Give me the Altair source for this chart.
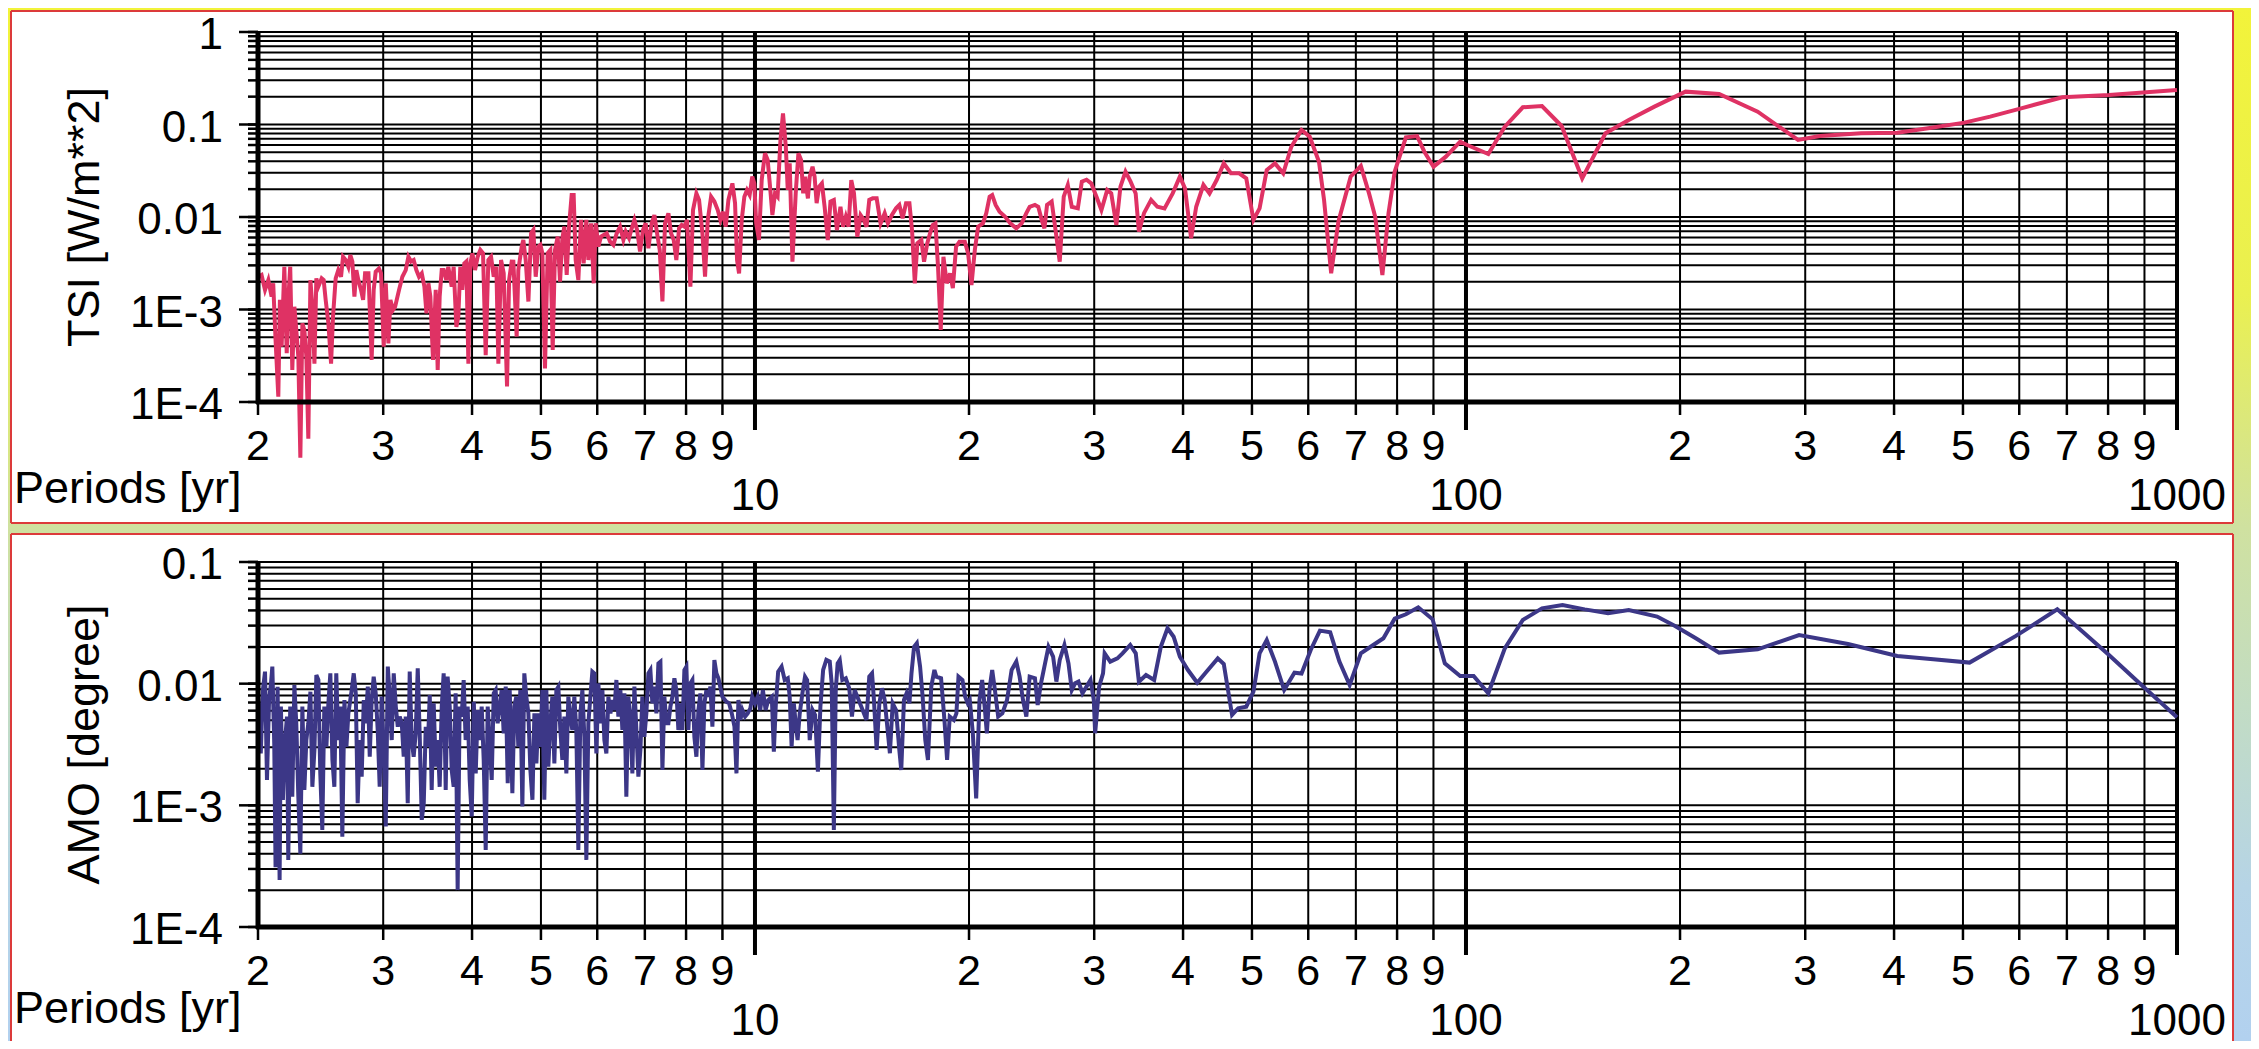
import altair as alt
import pandas as pd

# ---------------- data ----------------
X_TICKS = [2, 3, 4, 5, 6, 7, 8, 9, 10, 20, 30, 40, 50, 60, 70, 80, 90,
           100, 200, 300, 400, 500, 600, 700, 800, 900, 1000]
X_MINOR_POS = [2, 3, 4, 5, 6, 7, 8, 9, 20, 30, 40, 50, 60, 70, 80, 90,
               200, 300, 400, 500, 600, 700, 800, 900]
X_MINOR_TEXT = ["2", "3", "4", "5", "6", "7", "8", "9"] * 3
X_MAJOR = [10, 100, 1000]
X_MAJOR_LABELS = ["10", "100", "1000"]

TSI_DECADES = [0.0001, 0.001, 0.01, 0.1, 1]
TSI_DECADE_LABELS = ["1E-4", "1E-3", "0.01", "0.1", "1"]
AMO_DECADES = [0.0001, 0.001, 0.01, 0.1]
AMO_DECADE_LABELS = ["1E-4", "1E-3", "0.01", "0.1"]

TSI_POINTS = [
    (2.0, 0.00226), (2.023, 0.00236), (2.046, 0.00163), (2.068, 0.00208), (2.090, 0.00138),
    (2.101, 0.00192), (2.117, 0.00047), (2.136, 0.000114), (2.147, 0.00127), (2.159, 0.000396),
    (2.178, 0.0029), (2.195, 0.000336), (2.206, 0.00127), (2.220, 0.0029), (2.235, 0.000222),
    (2.250, 0.00107), (2.264, 0.0006), (2.279, 0.00031), (2.294, 0.000025), (2.309, 0.00071),
    (2.324, 0.0006), (2.339, 0.00031), (2.354, 0.00004), (2.370, 0.00208), (2.385, 0.00107),
    (2.401, 0.00026), (2.416, 0.00217), (2.432, 0.00177), (2.458, 0.00217), (2.474, 0.00208),
    (2.490, 0.00127), (2.512, 0.00071), (2.534, 0.00026), (2.550, 0.00084), (2.572, 0.00217),
    (2.594, 0.00267), (2.617, 0.00226), (2.634, 0.00372), (2.657, 0.00343), (2.680, 0.0029),
    (2.697, 0.00388), (2.715, 0.0033), (2.733, 0.00138), (2.750, 0.00267), (2.768, 0.00208),
    (2.792, 0.00163), (2.811, 0.00127), (2.829, 0.00246), (2.860, 0.00246), (2.890, 0.000285),
    (2.909, 0.00163), (2.928, 0.00256), (2.959, 0.00278), (2.979, 0.00246), (3.005, 0.000396),
    (3.025, 0.00192), (3.051, 0.00043), (3.071, 0.00127), (3.097, 0.00099), (3.118, 0.00107),
    (3.158, 0.00163), (3.192, 0.00226), (3.227, 0.00267), (3.255, 0.00372), (3.283, 0.0033),
    (3.311, 0.00343), (3.340, 0.00267), (3.369, 0.00226), (3.399, 0.00246), (3.428, 0.00177),
    (3.451, 0.00091), (3.473, 0.00192), (3.495, 0.00138), (3.525, 0.000285), (3.556, 0.00163),
    (3.579, 0.000222), (3.602, 0.00138), (3.626, 0.00267), (3.649, 0.00267), (3.680, 0.00208),
    (3.704, 0.0029), (3.745, 0.00177), (3.769, 0.0029), (3.802, 0.00065), (3.826, 0.00084),
    (3.851, 0.0029), (3.876, 0.00163), (3.901, 0.00315), (3.927, 0.0033), (3.953, 0.00026),
    (3.978, 0.00315), (4.005, 0.00405), (4.039, 0.00267), (4.074, 0.00372), (4.109, 0.0044),
    (4.145, 0.00405), (4.181, 0.00032), (4.217, 0.00343), (4.254, 0.00372), (4.291, 0.00226),
    (4.328, 0.0029), (4.356, 0.00026), (4.394, 0.00343), (4.432, 0.00246), (4.480, 0.000147),
    (4.510, 0.00208), (4.548, 0.0033),
    (4.573, 0.00329), (4.622, 0.00051), (4.647, 0.00267), (4.698, 0.00479), (4.723, 0.00565),
    (4.759, 0.00343), (4.801, 0.00122), (4.843, 0.00667), (4.879, 0.00724), (4.916, 0.00226),
    (4.959, 0.00479), (4.991, 0.00499), (5.023, 0.00406), (5.066, 0.000231), (5.110, 0.00406),
    (5.155, 0.00441), (5.194, 0.000366), (5.233, 0.00441), (5.279, 0.00614), (5.319, 0.0020),
    (5.359, 0.00589), (5.394, 0.00787), (5.435, 0.00236), (5.476, 0.00787), (5.523, 0.0173),
    (5.559, 0.0173), (5.595, 0.00343), (5.644, 0.00208), (5.693, 0.0093), (5.742, 0.00316),
    (5.792, 0.0093), (5.830, 0.00343), (5.881, 0.00855), (5.932, 0.00192), (5.970, 0.00855),
    (6.022, 0.00479), (6.075, 0.00614), (6.127, 0.0064), (6.187, 0.00667), (6.254, 0.00542),
    (6.322, 0.00499), (6.391, 0.00667), (6.461, 0.00787), (6.530, 0.00565), (6.579, 0.00695),
    (6.651, 0.00589), (6.709, 0.00755), (6.767, 0.0093), (6.826, 0.00724), (6.892, 0.00423),
    (6.959, 0.00724), (7.019, 0.00855), (7.081, 0.00459), (7.158, 0.00855), (7.220, 0.0105),
    (7.283, 0.00667), (7.346, 0.00441), (7.410, 0.00122), (7.473, 0.00855), (7.555, 0.01096),
    (7.620, 0.00667), (7.686, 0.00565), (7.752, 0.00343), (7.820, 0.00755), (7.888, 0.0082),
    (7.956, 0.00787), (8.025, 0.0093), (8.113, 0.00177), (8.182, 0.0119), (8.272, 0.018),
    (8.344, 0.0153), (8.435, 0.00667), (8.507, 0.00226), (8.582, 0.0093), (8.675, 0.0166),
    (8.768, 0.0147), (8.864, 0.0119), (8.940, 0.0093), (9.018, 0.0114), (9.096, 0.00787),
    (9.176, 0.0153), (9.295, 0.0231), (9.375, 0.0141), (9.436, 0.00343), (9.498, 0.00246),
    (9.580, 0.0093), (9.662, 0.0166), (9.745, 0.0196), (9.829, 0.0173), (9.913, 0.0273),
    (9.978, 0.0231),
    (10.04, 0.00855), (10.13, 0.00564), (10.22, 0.0251), (10.33, 0.0488), (10.42, 0.0413),
    (10.51, 0.0196), (10.58, 0.0105), (10.67, 0.018), (10.76, 0.0166), (10.86, 0.0679),
    (10.95, 0.132), (11.05, 0.0575), (11.12, 0.0196), (11.19, 0.038), (11.29, 0.00329),
    (11.41, 0.018), (11.51, 0.0488), (11.61, 0.0413), (11.69, 0.018), (11.76, 0.0273),
    (11.87, 0.0159), (11.94, 0.0273), (12.05, 0.035), (12.13, 0.0273), (12.21, 0.0141),
    (12.31, 0.0213), (12.42, 0.0231), (12.53, 0.0129), (12.66, 0.00564), (12.77, 0.0147),
    (12.91, 0.0153), (13.04, 0.00723), (13.19, 0.0129), (13.30, 0.00786), (13.42, 0.0101),
    (13.54, 0.00786), (13.66, 0.0251), (13.78, 0.018), (13.93, 0.00612), (14.08, 0.0105),
    (14.23, 0.0093), (14.35, 0.00786), (14.48, 0.0153), (14.64, 0.0159), (14.83, 0.0159),
    (15.02, 0.00853), (15.22, 0.011), (15.38, 0.00853), (15.58, 0.0105), (15.79, 0.0124),
    (15.96, 0.0135), (16.13, 0.0097), (16.31, 0.0141), (16.49, 0.0141), (16.63, 0.00723),
    (16.78, 0.00192), (16.92, 0.00519), (17.14, 0.00564), (17.29, 0.00329), (17.47, 0.00519),
    (17.63, 0.00666), (17.78, 0.00819), (17.94, 0.00853), (18.09, 0.0029), (18.25, 0.0006),
    (18.41, 0.00372), (18.61, 0.00192), (18.81, 0.00246), (18.98, 0.0017), (19.18, 0.00478),
    (19.39, 0.00541), (19.73, 0.00541), (19.94, 0.00405), (20.16, 0.00184), (20.38, 0.0044),
    (20.60, 0.00786), (20.92, 0.00853), (21.15, 0.011), (21.38, 0.0166), (21.56, 0.0173),
    (21.80, 0.0135), (22.08, 0.0114), (22.47, 0.0101), (22.86, 0.00853), (23.31, 0.00754),
    (23.72, 0.00853), (24.08, 0.011), (24.34, 0.0129), (24.76, 0.0135), (25.03, 0.0129),
    (25.31, 0.0093), (25.53, 0.00754), (25.75, 0.0135), (26.14, 0.0147), (26.43, 0.00786),
    (26.83, 0.00329), (27.18, 0.0166), (27.54, 0.0222), (27.90, 0.0129), (28.45, 0.0124),
    (28.82, 0.0241), (29.26, 0.0253), (29.71, 0.0231), (30.22, 0.0166), (30.71, 0.0119),
    (31.29, 0.0196), (31.70, 0.018), (32.23, 0.0082), (32.66, 0.0213), (33.20, 0.0309),
    (33.75, 0.0241), (34.31, 0.018), (34.67, 0.00694), (35.25, 0.011), (36.07, 0.0153),
    (36.81, 0.0129), (37.67, 0.0124), (38.68, 0.018), (39.59, 0.0273), (40.25, 0.0204),
    (41.06, 0.00589), (41.74, 0.0129), (42.73, 0.0222), (43.58, 0.018), (44.60, 0.0251),
    (45.64, 0.038), (46.71, 0.0297), (47.97, 0.0297), (49.09, 0.0262), (50.24, 0.0093),
    (51.25, 0.0124), (52.45, 0.0322), (53.87, 0.038), (55.33, 0.0297), (56.80, 0.0575),
    (58.71, 0.0873), (60.29, 0.0738), (62.12, 0.0396), (63.15, 0.0153), (64.62, 0.00246),
    (66.15, 0.0089), (68.83, 0.0273), (71.14, 0.0356), (73.05, 0.018), (74.52, 0.0101),
    (76.28, 0.00236), (77.81, 0.011), (79.38, 0.0309), (82.32, 0.0727), (85.36, 0.075),
    (87.39, 0.0508), (90.02, 0.035), (93.69, 0.0449), (98.13, 0.0652), (100.4, 0.06),
    (107.5, 0.048), (113.4, 0.0946), (120.2, 0.1535), (127.9, 0.1585), (136.3, 0.0964),
    (145.7, 0.0262), (157.1, 0.0803), (169.4, 0.112), (184.1, 0.156), (203.6, 0.2265),
    (227.0, 0.2138), (257.2, 0.1376), (293.1, 0.068), (314.5, 0.0751), (359.4, 0.0803),
    (404.2, 0.0816), (446.7, 0.091), (502.3, 0.1047), (546.0, 0.1215), (603.7, 0.1496),
    (690.0, 0.1968), (802.3, 0.2085), (1000.0, 0.236),
]

AMO_POINTS = [
    (2.0, 0.00782), (2.018, 0.00267), (2.032, 0.00887), (2.046, 0.01256), (2.059, 0.00162),
    (2.073, 0.00734), (2.086, 0.01007), (2.095, 0.0138), (2.108, 0.00323), (2.117, 0.00031),
    (2.131, 0.00945), (2.145, 0.000243), (2.154, 0.00648), (2.168, 0.00111), (2.183, 0.00344),
    (2.197, 0.00536), (2.206, 0.000356), (2.220, 0.00648), (2.235, 0.00118), (2.250, 0.00975),
    (2.264, 0.00472), (2.279, 0.00118), (2.294, 0.0004), (2.309, 0.00648), (2.324, 0.00134),
    (2.339, 0.00344), (2.354, 0.00472), (2.370, 0.00859), (2.385, 0.00142), (2.401, 0.00285),
    (2.416, 0.01178), (2.432, 0.01072), (2.447, 0.00183), (2.463, 0.000627), (2.479, 0.00648),
    (2.496, 0.00303), (2.512, 0.00689), (2.528, 0.01216), (2.545, 0.00236), (2.561, 0.00142),
    (2.577, 0.01216), (2.594, 0.00344), (2.611, 0.00648), (2.628, 0.000553), (2.646, 0.00734),
    (2.663, 0.00303), (2.680, 0.0057), (2.709, 0.00887), (2.727, 0.01216), (2.745, 0.00834),
    (2.762, 0.00104), (2.780, 0.00344), (2.798, 0.00172), (2.817, 0.00734), (2.835, 0.00472),
    (2.854, 0.00945), (2.872, 0.00251), (2.890, 0.00734), (2.909, 0.01142), (2.928, 0.00834),
    (2.947, 0.00416), (2.966, 0.00142), (2.985, 0.00782), (3.005, 0.00285), (3.025, 0.00067),
    (3.045, 0.0138), (3.064, 0.00782), (3.084, 0.00344), (3.104, 0.01216), (3.125, 0.00648),
    (3.145, 0.00443), (3.165, 0.00536), (3.186, 0.00472), (3.206, 0.00251), (3.227, 0.00536),
    (3.248, 0.00104), (3.269, 0.01256), (3.290, 0.00344), (3.311, 0.00251), (3.333, 0.00391),
    (3.355, 0.01337), (3.376, 0.00391), (3.399, 0.00076), (3.421, 0.00104), (3.443, 0.00443),
    (3.466, 0.00303), (3.488, 0.00807), (3.510, 0.00134), (3.533, 0.00689), (3.556, 0.00208),
    (3.579, 0.00344), (3.602, 0.00142), (3.626, 0.00648), (3.649, 0.01216), (3.673, 0.00134),
    (3.696, 0.01142), (3.721, 0.00648), (3.745, 0.00195), (3.769, 0.00142), (3.793, 0.00834),
    (3.818, 0.000201), (3.843, 0.00648), (3.868, 0.00536), (3.893, 0.01072), (3.918, 0.00344),
    (3.944, 0.00648), (3.970, 0.00162), (3.996, 0.00081), (4.023, 0.00711), (4.048, 0.00183),
    (4.074, 0.00608), (4.100, 0.00344), (4.127, 0.00648), (4.154, 0.00236), (4.181, 0.00043),
    (4.208, 0.00648), (4.235, 0.00344), (4.263, 0.00162), (4.291, 0.00834), (4.318, 0.00887),
    (4.346, 0.00472), (4.375, 0.00648), (4.403, 0.00887), (4.432, 0.00391), (4.461, 0.00945),
    (4.490, 0.00152), (4.519, 0.00887), (4.558, 0.00126), (4.587, 0.00648),
    (4.617, 0.00782), (4.647, 0.00303), (4.677, 0.00887), (4.708, 0.00098), (4.738, 0.01216),
    (4.769, 0.00782), (4.801, 0.0057), (4.832, 0.00195), (4.864, 0.00111), (4.895, 0.0057),
    (4.927, 0.00221), (4.959, 0.0057), (4.991, 0.00303), (5.023, 0.00887), (5.055, 0.00111),
    (5.088, 0.00887), (5.121, 0.00208), (5.155, 0.00472), (5.188, 0.00782), (5.222, 0.00221),
    (5.256, 0.00887), (5.290, 0.00945), (5.324, 0.00416), (5.359, 0.00236), (5.394, 0.00536),
    (5.429, 0.00183), (5.464, 0.00782), (5.500, 0.00536), (5.535, 0.00416), (5.571, 0.00782),
    (5.607, 0.00416), (5.644, 0.00043), (5.681, 0.0057), (5.718, 0.00887), (5.755, 0.00366),
    (5.792, 0.000356), (5.830, 0.00472), (5.868, 0.00782), (5.906, 0.01256), (5.944, 0.01216),
    (5.983, 0.00267), (6.022, 0.01007), (6.061, 0.00472), (6.101, 0.00887), (6.140, 0.00344),
    (6.180, 0.00267), (6.221, 0.00782), (6.262, 0.0057), (6.302, 0.00734), (6.343, 0.00607),
    (6.384, 0.01072), (6.425, 0.00536), (6.467, 0.00887), (6.509, 0.00416), (6.551, 0.00832),
    (6.593, 0.00118), (6.636, 0.00782), (6.680, 0.00536), (6.723, 0.00183), (6.767, 0.00945),
    (6.811, 0.00416), (6.855, 0.00172), (6.900, 0.00285), (6.944, 0.00782), (6.989, 0.00366),
    (7.035, 0.0057), (7.081, 0.01216), (7.127, 0.01295), (7.173, 0.00689), (7.220, 0.00945),
    (7.267, 0.0057), (7.314, 0.01469), (7.362, 0.01517), (7.410, 0.00195), (7.457, 0.00782),
    (7.506, 0.00472), (7.555, 0.00472), (7.604, 0.00647), (7.653, 0.00782), (7.703, 0.01107),
    (7.752, 0.00887), (7.803, 0.00416), (7.854, 0.00689), (7.905, 0.00416), (7.956, 0.01295),
    (8.008, 0.0138), (8.060, 0.00416), (8.113, 0.01007), (8.165, 0.01072), (8.218, 0.00366),
    (8.272, 0.00251), (8.326, 0.00607), (8.380, 0.00832), (8.435, 0.00195), (8.489, 0.00689),
    (8.545, 0.00887), (8.600, 0.00782), (8.656, 0.00945), (8.712, 0.00443), (8.768, 0.01563),
    (8.826, 0.01216), (8.883, 0.01107), (8.998, 0.00782), (9.116, 0.00711), (9.196, 0.00689),
    (9.276, 0.0057), (9.357, 0.00443), (9.418, 0.00183), (9.478, 0.00734), (9.539, 0.00503),
    (9.600, 0.00607), (9.683, 0.00536), (9.767, 0.0057), (9.851, 0.00627), (9.913, 0.00782),
    (10.00, 0.00689), (10.09, 0.00782), (10.17, 0.00607), (10.26, 0.00887), (10.35, 0.00607),
    (10.44, 0.00734),
    (10.56, 0.00782), (10.63, 0.00276), (10.70, 0.0069), (10.78, 0.01256), (10.90, 0.0138),
    (11.01, 0.01072), (11.12, 0.01107), (11.19, 0.00782), (11.26, 0.00304), (11.34, 0.0069),
    (11.41, 0.00472), (11.48, 0.00344), (11.56, 0.0057), (11.66, 0.00834), (11.76, 0.01142),
    (11.84, 0.01072), (11.94, 0.00344), (12.05, 0.00608), (12.15, 0.00553), (12.26, 0.00189),
    (12.36, 0.00648), (12.47, 0.01297), (12.60, 0.01567), (12.74, 0.01517), (12.82, 0.01007),
    (12.91, 0.000628), (12.99, 0.00887), (13.07, 0.0147), (13.16, 0.01567), (13.27, 0.01072),
    (13.42, 0.01107), (13.57, 0.00916), (13.69, 0.00536), (13.81, 0.00887), (13.99, 0.00734),
    (14.17, 0.00608), (14.35, 0.00503), (14.48, 0.01142), (14.61, 0.01216), (14.70, 0.00734),
    (14.83, 0.00285), (14.96, 0.0069), (15.09, 0.00916), (15.22, 0.00734), (15.35, 0.00443),
    (15.48, 0.00268), (15.62, 0.0069), (15.79, 0.00608), (15.96, 0.00285), (16.06, 0.00195),
    (16.20, 0.00734), (16.34, 0.00834), (16.49, 0.0069), (16.60, 0.01216), (16.74, 0.0201),
    (16.89, 0.0215), (17.07, 0.0138), (17.21, 0.00782), (17.36, 0.00344), (17.51, 0.00236),
    (17.70, 0.00946), (17.88, 0.01297), (17.99, 0.01142), (18.27, 0.01107), (18.47, 0.00503),
    (18.63, 0.00236), (18.79, 0.00536), (19.04, 0.00503), (19.20, 0.0057), (19.33, 0.01142),
    (19.58, 0.01072), (19.75, 0.00782), (19.92, 0.0069), (20.05, 0.00734), (20.25, 0.00391),
    (20.47, 0.00114), (20.69, 0.00734), (20.87, 0.01072), (21.06, 0.00608), (21.19, 0.00391),
    (21.38, 0.00916), (21.56, 0.01297), (21.75, 0.00887), (21.98, 0.00536), (22.28, 0.0057),
    (22.62, 0.00734), (22.96, 0.01297), (23.31, 0.01517), (23.56, 0.01142), (23.82, 0.00734),
    (24.08, 0.00536), (24.34, 0.01142), (24.76, 0.01107), (24.98, 0.00668), (25.25, 0.01007),
    (25.53, 0.0138), (25.87, 0.0201), (26.26, 0.0167), (26.54, 0.0104), (26.83, 0.01567),
    (27.24, 0.0208), (27.60, 0.0147), (27.90, 0.00887), (28.20, 0.01007), (28.51, 0.0104),
    (28.88, 0.00834), (29.26, 0.00946), (29.64, 0.01072), (29.96, 0.00734), (30.09, 0.00391),
    (30.48, 0.00946), (30.87, 0.01216),
    (31.03, 0.01776), (31.60, 0.01517), (32.34, 0.01615), (32.88, 0.01776), (33.71, 0.0208),
    (34.32, 0.01776), (34.67, 0.01038), (35.48, 0.01178), (36.43, 0.01072), (37.22, 0.0201),
    (38.04, 0.0285), (38.80, 0.0243), (39.59, 0.01667), (40.64, 0.01294), (41.88, 0.01019),
    (43.15, 0.01253), (44.76, 0.01615), (45.64, 0.01452), (46.88, 0.00553), (47.82, 0.00628),
    (49.09, 0.00647), (50.24, 0.00859), (51.25, 0.01776), (52.45, 0.02286), (53.87, 0.01517),
    (55.50, 0.00887), (57.38, 0.0123), (58.71, 0.0121), (60.48, 0.01892), (62.31, 0.0273),
    (64.42, 0.02643), (66.37, 0.01517), (68.61, 0.00975), (71.14, 0.01776), (74.06, 0.0208),
    (76.54, 0.0236), (79.38, 0.0342), (82.32, 0.0372), (85.68, 0.0424), (89.75, 0.0338),
    (93.37, 0.0147), (98.13, 0.01156), (102.5, 0.01156),
    (107.5, 0.00834), (113.4, 0.0195), (120.2, 0.0334), (127.9, 0.0416), (136.7, 0.0443),
    (146.9, 0.0408), (158.4, 0.0379), (169.4, 0.0403), (185.7, 0.0356), (196.8, 0.0298),
    (210.5, 0.0236), (227.0, 0.018), (257.2, 0.01914), (294.1, 0.0251), (344.6, 0.0212),
    (404.2, 0.01687), (454.2, 0.01585), (510.8, 0.0149), (593.6, 0.0247), (678.6, 0.0408),
    (802.3, 0.0172), (901.6, 0.00916), (1000.0, 0.0053),
]

# ---------------- styling ----------------
W = 1919
FONT = "Liberation Sans, Arial, sans-serif"
RED = "#dc3a3a"


def minor_ticks(decades):
    out = []
    for d in decades[:-1]:
        for k in range(1, 10):
            out.append(round(k * d, 8))
    out.append(decades[-1])
    return out


def panel(points, decades, dec_labels, H, color, ytitle, bg_y, bg_stops, box_y,
          periods_dy, bottom_border):
    xs = alt.Scale(type="log", domain=[2, 1000], nice=False)
    ys = alt.Scale(type="log", domain=[decades[0], decades[-1]], nice=False)
    yticks = minor_ticks(decades)
    one = pd.DataFrame({"k": [0]})

    def X():
        return alt.X("period:Q", scale=xs, axis=None)

    def Y():
        return alt.Y("value:Q", scale=ys, axis=None)

    grad = alt.LinearGradient(
        gradient="linear", x1=0, x2=0, y1=0, y2=1,
        stops=[alt.GradientStop(offset=o, color=c) for o, c in bg_stops])
    bg = alt.Chart(one).mark_rect(fill=grad).encode(
        x=alt.value(-250), x2=alt.value(1993), y=alt.value(bg_y[0]), y2=alt.value(bg_y[1]))
    bx0, bx1 = -247, 1975
    box = alt.Chart(one).mark_rect(fill="white").encode(
        x=alt.value(bx0), x2=alt.value(bx1), y=alt.value(box_y[0]), y2=alt.value(box_y[1]))
    border = [
        alt.Chart(one).mark_rule(color=RED, strokeWidth=2).encode(
            x=alt.value(bx0), x2=alt.value(bx1), y=alt.value(box_y[0])),
        alt.Chart(one).mark_rule(color=RED, strokeWidth=2).encode(
            x=alt.value(bx0), y=alt.value(box_y[0]), y2=alt.value(box_y[1])),
        alt.Chart(one).mark_rule(color=RED, strokeWidth=2).encode(
            x=alt.value(bx1), y=alt.value(box_y[0]), y2=alt.value(box_y[1])),
    ]
    if bottom_border:
        border.append(alt.Chart(one).mark_rule(color=RED, strokeWidth=2).encode(
            x=alt.value(bx0), x2=alt.value(bx1), y=alt.value(box_y[1])))

    xt = pd.DataFrame({"period": X_TICKS})
    vgrid = alt.Chart(xt).mark_rule(color="black", strokeWidth=2).encode(
        x=X(), y=alt.value(0), y2=alt.value(H))
    xminor_ticks = alt.Chart(xt).mark_rule(color="black", strokeWidth=2.5).encode(
        x=X(), y=alt.value(H), y2=alt.value(H + 13))
    yt = pd.DataFrame({"value": yticks})
    hgrid = alt.Chart(yt).mark_rule(color="black", strokeWidth=2).encode(
        y=Y(), x=alt.value(0), x2=alt.value(W))
    yminor_ticks = alt.Chart(yt).mark_rule(color="black", strokeWidth=2.5).encode(
        y=Y(), x=alt.value(-10), x2=alt.value(0))
    vmajor = alt.Chart(pd.DataFrame({"period": X_MAJOR})).mark_rule(
        color="black", strokeWidth=4).encode(x=X(), y=alt.value(0), y2=alt.value(H + 28))
    ymajor = alt.Chart(pd.DataFrame({"value": decades})).mark_rule(
        color="black", strokeWidth=2.5).encode(y=Y(), x=alt.value(-19), x2=alt.value(0))

    xdomain = alt.Chart(one).mark_rule(color="black", strokeWidth=5).encode(
        x=alt.value(-2), x2=alt.value(W + 1), y=alt.value(H))
    ydomain = alt.Chart(one).mark_rule(color="black", strokeWidth=5).encode(
        x=alt.value(0), y=alt.value(0), y2=alt.value(H + 2))

    df = pd.DataFrame(points, columns=["period", "value"])
    line = alt.Chart(df).mark_line(color=color, strokeWidth=4).encode(x=X(), y=Y())

    minlab = alt.Chart(pd.DataFrame({"period": X_MINOR_POS, "lab": X_MINOR_TEXT})).mark_text(
        font=FONT, fontSize=43, align="center", baseline="middle", color="black").encode(
        x=X(), y=alt.value(H + 45), text="lab:N")
    majlab = alt.Chart(pd.DataFrame({"period": X_MAJOR, "lab": X_MAJOR_LABELS})).mark_text(
        font=FONT, fontSize=44, align="center", baseline="middle", color="black").encode(
        x=X(), y=alt.value(H + 95), text="lab:N")
    ylab = alt.Chart(pd.DataFrame({"value": decades, "lab": dec_labels})).mark_text(
        font=FONT, fontSize=44, align="right", baseline="middle", color="black", dy=4).encode(
        y=Y(), x=alt.value(-35), text="lab:N")
    ytit = alt.Chart(one).mark_text(
        text=ytitle, font=FONT, fontSize=45, angle=270, align="center",
        baseline="middle", color="black").encode(x=alt.value(-173), y=alt.value(H / 2))
    per = alt.Chart(one).mark_text(
        text="Periods [yr]", font=FONT, fontSize=45, align="left",
        baseline="middle", color="black").encode(
        x=alt.value(-244), y=alt.value(H + periods_dy))

    return alt.layer(bg, box, *border, vgrid, hgrid, vmajor, line, xminor_ticks,
                     yminor_ticks, ymajor, xdomain, ydomain, minlab, majlab, ylab, ytit,
                     per).properties(width=W, height=H)


top = panel(TSI_POINTS, TSI_DECADES, TSI_DECADE_LABELS, 370, "#df3264", "TSI [W/m**2]",
            (-24, 496), [(0, "#f2f33a"), (0.55, "#eaf050"), (1, "#cfe1a0")],
            (-21, 491), 87, True)
bottom = panel(AMO_POINTS, AMO_DECADES, AMO_DECADE_LABELS, 365, "#3c3787", "AMO [degree]",
               (-34, 479), [(0, "#cfe1a0"), (0.35, "#c2dcc4"), (0.7, "#b6d4e6"), (1, "#b2d1ef")],
               (-28, 479), 82, False)

chart = alt.vconcat(top, bottom, spacing=0).properties(padding=0).configure_view(
    strokeWidth=0)

chart.save("out.html", embed_options={"renderer": "svg", "actions": False})
